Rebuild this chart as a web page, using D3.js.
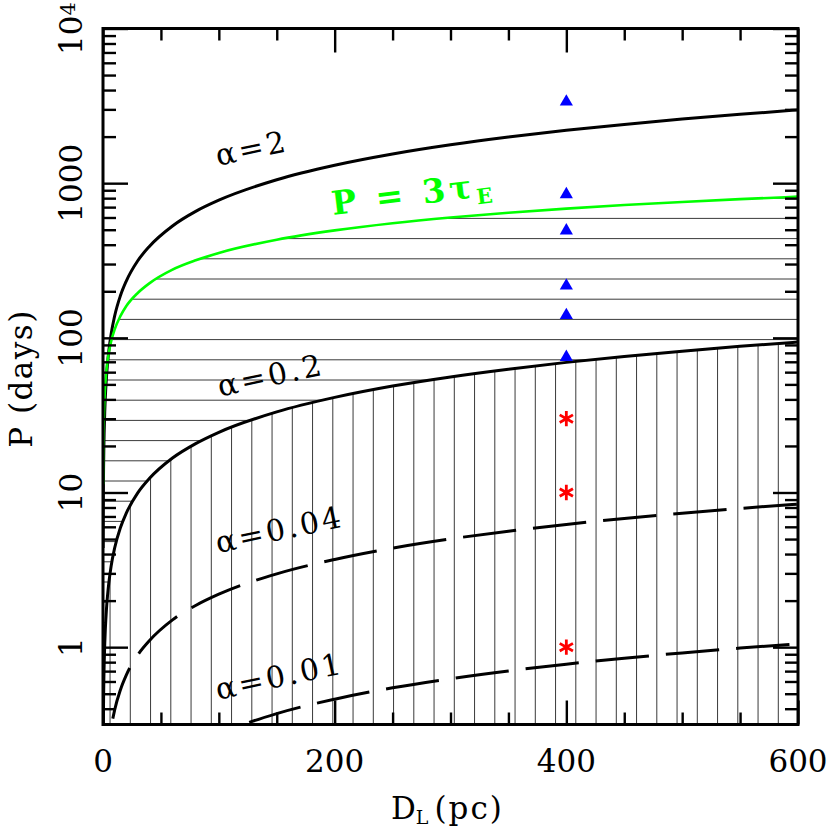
<!DOCTYPE html>
<html>
<head>
<meta charset="utf-8">
<script src="https://cdn.jsdelivr.net/npm/d3@7"></script>
<style>
  body { margin: 0; background: #fff; }
  svg text { font-family: "DejaVu Serif", serif; }
</style>
</head>
<body>
<svg class="period-plot" width="830" height="830"></svg>
<script>
var distances = [0.1, 0.2, 0.3, 0.5, 0.75, 1, 1.5, 2, 3, 4, 5, 7, 10, 15, 20, 30, 40, 60, 80, 100,
                 150, 200, 250, 300, 350, 400, 450, 500, 550, 600];

// orbital period (days) for each alpha, and the P = 3 tau_E line
var periodAlpha2 = [4.37, 7.34, 9.95, 14.6, 19.8, 24.5, 33.3, 41.3, 55.9, 69.4, 82.1, 105.6, 138, 187, 232,
                    315, 390, 529, 657, 776, 1052, 1305, 1543, 1769, 1986, 2195, 2398, 2595, 2787, 2975];
var periodAlpha02 = [0.138, 0.232, 0.314, 0.461, 0.625, 0.776, 1.05, 1.30, 1.77, 2.19, 2.59, 3.34, 4.36, 5.91, 7.33,
                     9.94, 12.3, 16.7, 20.7, 24.5, 33.2, 41.2, 48.8, 55.9, 62.7, 69.4, 75.8, 82.0, 88.1, 94.0];
var periodAlpha004 = [0.0124, 0.0208, 0.0282, 0.0413, 0.0559, 0.0695, 0.0941, 0.117, 0.158, 0.196, 0.232, 0.299,
                      0.391, 0.529, 0.657, 0.890, 1.10, 1.50, 1.86, 2.20, 2.98, 3.69, 4.37, 5.01, 5.62, 6.21,
                      6.79, 7.34, 7.89, 8.42];
var periodAlpha001 = [0.00154, 0.0026, 0.00352, 0.00515, 0.00699, 0.00868, 0.0118, 0.0146, 0.0198, 0.0245, 0.029,
                      0.0374, 0.0488, 0.0661, 0.0821, 0.111, 0.138, 0.187, 0.232, 0.274, 0.372, 0.461, 0.546,
                      0.625, 0.702, 0.776, 0.848, 0.918, 0.986, 1.052];
var periodThreeTauE = [11.3, 16.0, 19.6, 25.3, 31.0, 35.8, 43.8, 50.6, 62.0, 71.6, 80.0, 94.7, 113, 138, 160,
                       195, 225, 276, 317, 354, 431, 495, 551, 600, 644, 685, 722, 756, 788, 818];

// observed systems, all at D_L = 400 pc
var markerDistance = 400;
var trianglePeriods = [3360, 846, 493, 217, 140, 75];
var starPeriods = [30, 10, 1];

// curve labels
var curveLabels = ["\u03b1=2", "\u03b1=0.2", "\u03b1=0.04", "\u03b1=0.01"];

var xMajorTicks = [0, 200, 400, 600];
var xTickLabels = ["0", "200", "400", "600"];
var yMajorTicks = [1, 10, 100, 1000, 10000];
var yTickLabels = ["1", "10", "100", "1000", "10"];

var margin = {top: 28.5, left: 103, right: 32, bottom: 105.5},
    width = 830 - margin.left - margin.right,
    height = 830 - margin.top - margin.bottom;

var svg = d3.select(".period-plot");

var x = d3.scaleLinear().domain([0, 600]).range([margin.left, margin.left + width]);
var y = d3.scaleLog().domain([Math.pow(10, -0.5), 1e4]).range([margin.top + height, margin.top]);

var defs = svg.append("defs");
defs.append("clipPath").attr("id", "plot-clip")
  .append("rect")
    .attr("x", margin.left).attr("y", margin.top)
    .attr("width", width).attr("height", height);

// hatched regions: horizontal between alpha=0.2 and 3 tau_E, vertical below alpha=0.2
var horizArea = d3.area()
    .x(function(d) { return x(d); })
    .y0(function(d, i) { return y(periodAlpha02[i]); })
    .y1(function(d, i) { return y(periodThreeTauE[i]); })
    .curve(d3.curveMonotoneX);

var vertArea = d3.area()
    .x(function(d) { return x(d); })
    .y0(margin.top + height + 200)
    .y1(function(d, i) { return y(periodAlpha02[i]); })
    .curve(d3.curveMonotoneX);

defs.append("clipPath").attr("id", "horiz-clip")
  .append("path").attr("d", horizArea(distances));
defs.append("clipPath").attr("id", "vert-clip")
  .append("path").attr("d", vertArea(distances));

var plot = svg.append("g").attr("clip-path", "url(#plot-clip)");

var hatchStep = 20.2;

plot.append("g")
    .attr("clip-path", "url(#horiz-clip)")
  .selectAll("line")
    .data(d3.range(198.2, margin.top + height, hatchStep))
  .enter().append("line")
    .attr("x1", margin.left).attr("x2", margin.left + width)
    .attr("y1", function(d) { return d; }).attr("y2", function(d) { return d; })
    .attr("stroke", "#3a3a3a")
    .attr("stroke-width", 1);

plot.append("g")
    .attr("clip-path", "url(#vert-clip)")
  .selectAll("line")
    .data(d3.range(110.05, margin.left + width, 20.25))
  .enter().append("line")
    .attr("y1", margin.top).attr("y2", margin.top + height)
    .attr("x1", function(d) { return d; }).attr("x2", function(d) { return d; })
    .attr("stroke", "#3a3a3a")
    .attr("stroke-width", 1);

// curves
function curveLine(periods) {
  return d3.line()
      .x(function(d) { return x(d); })
      .y(function(d, i) { return y(periods[i]); })
      .curve(d3.curveMonotoneX)(distances);
}

var dashLen = 53.5, gapLen = 17;

function lengthAtX(node, tx) {
  var lo = 0, hi = node.getTotalLength();
  for (var i = 0; i < 40; i++) {
    var mid = (lo + hi) / 2;
    if (node.getPointAtLength(mid).x < tx) lo = mid; else hi = mid;
  }
  return lo;
}

plot.append("path")
    .attr("d", curveLine(periodAlpha2))
    .attr("fill", "none").attr("stroke", "#000").attr("stroke-width", 3);

plot.append("path")
    .attr("d", curveLine(periodAlpha02))
    .attr("fill", "none").attr("stroke", "#000").attr("stroke-width", 3);

// dashed curves; a dash ends where the reference shows one ending
[[periodAlpha004, 129.7], [periodAlpha001, 369.3]].forEach(function(c) {
  var p = plot.append("path")
      .attr("d", curveLine(c[0]))
      .attr("fill", "none").attr("stroke", "#000").attr("stroke-width", 3)
      .attr("stroke-dasharray", dashLen + " " + gapLen);
  var l0 = lengthAtX(p.node(), c[1]);
  var period = dashLen + gapLen;
  p.attr("stroke-dashoffset", (((dashLen - l0) % period) + period) % period);
});

plot.append("path")
    .attr("d", curveLine(periodThreeTauE))
    .attr("fill", "none").attr("stroke", "#00ff00").attr("stroke-width", 2.6);

// markers
plot.selectAll(".tri")
    .data(trianglePeriods)
  .enter().append("path")
    .attr("class", "tri")
    .attr("transform", function(d) { return "translate(" + x(markerDistance) + "," + y(d) + ")"; })
    .attr("d", d3.symbol().type(d3.symbolTriangle).size(75))
    .attr("fill", "#0000ff");

plot.selectAll(".star")
    .data(starPeriods)
  .enter().append("path")
    .attr("class", "star")
    .attr("transform", function(d) { return "translate(" + x(markerDistance) + "," + y(d) + ")"; })
    .attr("d", d3.symbol().type(d3.symbolAsterisk).size(165))
    .attr("fill", "none")
    .attr("stroke", "#ff0000")
    .attr("stroke-width", 2.8);

// ticks, pointing inward on all four sides
var yMinorTicks = y.ticks().filter(function(v) { return yMajorTicks.indexOf(v) < 0; });
var xMinorTicks = d3.range(0, 601, 50).filter(function(v) { return xMajorTicks.indexOf(v) < 0; });

function tickGroup(axis, tx, ty) {
  var g = svg.append("g")
      .attr("transform", "translate(" + tx + "," + ty + ")")
      .call(axis.tickFormat(""));
  g.select(".domain").remove();
  g.selectAll("line").attr("stroke-width", 2.4);
}

tickGroup(d3.axisLeft(y).tickValues(yMajorTicks).tickSize(-25), margin.left, 0);
tickGroup(d3.axisLeft(y).tickValues(yMinorTicks).tickSize(-13), margin.left, 0);
tickGroup(d3.axisRight(y).tickValues(yMajorTicks).tickSize(-25), margin.left + width, 0);
tickGroup(d3.axisRight(y).tickValues(yMinorTicks).tickSize(-13), margin.left + width, 0);
tickGroup(d3.axisBottom(x).tickValues(xMajorTicks).tickSize(-24), 0, margin.top + height);
tickGroup(d3.axisBottom(x).tickValues(xMinorTicks).tickSize(-12), 0, margin.top + height);
tickGroup(d3.axisTop(x).tickValues(xMajorTicks).tickSize(-24), 0, margin.top);
tickGroup(d3.axisTop(x).tickValues(xMinorTicks).tickSize(-12), 0, margin.top);

svg.append("rect")
    .attr("x", margin.left).attr("y", margin.top)
    .attr("width", width).attr("height", height)
    .attr("fill", "none").attr("stroke", "#000").attr("stroke-width", 3);

// tick labels
svg.selectAll(".xlab")
    .data(xMajorTicks)
  .enter().append("text")
    .attr("class", "xlab")
    .attr("x", function(d) { return x(d); })
    .attr("y", 772)
    .attr("text-anchor", "middle")
    .style("font-size", "31px")
    .text(function(d, i) { return xTickLabels[i]; });

var ylab = svg.selectAll(".ylab")
    .data(yMajorTicks)
  .enter().append("text")
    .attr("class", "ylab")
    .attr("transform", function(d) { return "translate(82," + y(d) + ") rotate(-90)"; })
    .attr("text-anchor", "middle")
    .style("font-size", "31px")
    .text(function(d, i) { return yTickLabels[i]; });

ylab.filter(function(d) { return d === 10000; })
  .append("tspan")
    .attr("dy", -7)
    .style("font-size", "21px")
    .text("4");

// axis titles
var xTitle = svg.append("text")
    .attr("x", 391).attr("y", 819)
    .style("font-size", "31px");
xTitle.append("tspan").text("D");
xTitle.append("tspan").attr("dy", 5).style("font-size", "19px").text("L");
xTitle.append("tspan").attr("dy", -5).attr("dx", 6).style("letter-spacing", "2px").text("(pc)");

svg.append("text")
    .attr("transform", "translate(32,378.5) rotate(-90)")
    .attr("text-anchor", "middle")
    .style("font-size", "31px")
    .style("letter-spacing", "1.5px")
    .text("P (days)");

// curve labels
var labelPos = [[218, 166], [220, 396.7], [218, 553.3], [218, 700]];
svg.selectAll(".clab")
    .data(curveLabels)
  .enter().append("text")
    .attr("class", "clab")
    .attr("transform", function(d, i) { return "translate(" + labelPos[i][0] + "," + labelPos[i][1] + ") rotate(-12)"; })
    .style("font-size", "30px")
    .style("letter-spacing", "3px")
    .text(function(d) { return d; });

var greenLabel = svg.append("text")
    .attr("transform", "translate(333,215) rotate(-7)")
    .attr("fill", "#00ff00")
    .style("font-weight", "bold")
    .style("font-size", "33px")
    .style("letter-spacing", "4px");
greenLabel.append("tspan").text("P = 3\u03c4");
greenLabel.append("tspan").attr("dy", 7).style("font-size", "21px").style("letter-spacing", "0px").text("E");
</script>
</body>
</html>
